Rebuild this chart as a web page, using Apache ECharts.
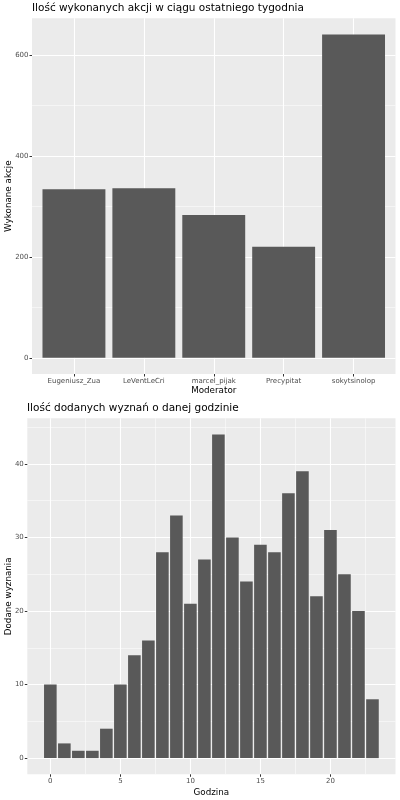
<!DOCTYPE html>
<html>
<head>
<meta charset="utf-8">
<script src="https://cdn.jsdelivr.net/npm/echarts@6/dist/echarts.min.js"></script>
<style>html,body{margin:0;padding:0;background:#fff}#c{width:400px;height:800px}</style>
</head>
<body>
<div id="c"></div>
<script>
// Top chart data
const moderators = ['Eugeniusz_Zua', 'LeVentLeCri', 'marcel_pijak', 'Precypitat', 'sokytsinolop'];
const actions = [334, 336, 283, 220, 641];
const topYTicks = [0, 200, 400, 600];
const topYMinor = [100, 300, 500];

// Bottom chart data
const hours = [0,1,2,3,4,5,6,7,8,9,10,11,12,13,14,15,16,17,18,19,20,21,22,23];
const confessions = [10,2,1,1,4,10,14,16,28,33,21,27,44,30,24,29,28,36,39,22,31,25,20,8];
const botXTicks = [0, 5, 10, 15, 20];
const botXMinor = [2.5, 7.5, 12.5, 17.5, 22.5];
const botYTicks = [0, 10, 20, 30, 40];
const botYMinor = [5, 15, 25, 35, 45];

const PANEL = '#EBEBEB', BAR = '#595959', TXT = '#4D4D4D';
const FONT = 'DejaVu Sans';

function expand(lo, hi, f) { const d = (hi - lo) * f; return [lo - d, hi + d]; }

const topX = [-0.6, moderators.length - 1 + 0.6];
const topY = expand(0, Math.max(...actions), 0.05);
const botX = expand(hours[0] - 0.45, hours[hours.length - 1] + 0.45, 0.05);
const botY = expand(0, Math.max(...confessions), 0.05);

function majorAxis(ext, ticks, extra) {
  return Object.assign({
    type: 'value', min: ext[0], max: ext[1],
    nameMoveOverlap: false,
    axisLine: { show: false, onZero: false },
    axisTick: { show: true, customValues: ticks, length: 2.5, lineStyle: { color: '#333', width: 1 } },
    axisLabel: { customValues: ticks, color: TXT, fontSize: 7, fontFamily: FONT, margin: 3.5 },
    splitLine: { show: true, lineStyle: { color: '#fff', width: 1.1 } },
    nameTextStyle: { color: '#000', fontSize: 8.75, fontFamily: FONT }
  }, extra || {});
}
function minorAxis(ext, ticks, pos) {
  return {
    type: 'value', min: ext[0], max: ext[1], position: pos,
    axisLine: { show: false, onZero: false }, axisLabel: { show: false },
    axisTick: { show: false, customValues: ticks },
    splitLine: { show: true, lineStyle: { color: '#fff', width: 0.5 } }
  };
}

const chart = echarts.init(document.getElementById('c'), null, { renderer: 'canvas' });
chart.setOption({
  animation: false,
  backgroundColor: '#fff',
  title: [
    { text: 'Ilość wykonanych akcji w ciągu ostatniego tygodnia', left: 32, top: 2.5, padding: 0,
      textStyle: { fontSize: 10.5, fontWeight: 'normal', color: '#000', fontFamily: FONT } },
    { text: 'Ilość dodanych wyznań o danej godzinie', left: 27, top: 402.5, padding: 0,
      textStyle: { fontSize: 10.5, fontWeight: 'normal', color: '#000', fontFamily: FONT } }
  ],
  grid: [
    { left: 32, right: 4.5, top: 18.3, height: 355.7, show: true, backgroundColor: PANEL, borderWidth: 0,
      outerBoundsMode: 'none', containLabel: false },
    { left: 27.3, right: 4.5, top: 418.3, height: 356, show: true, backgroundColor: PANEL, borderWidth: 0,
      outerBoundsMode: 'none', containLabel: false }
  ],
  xAxis: [
    majorAxis(topX, moderators.map((_, i) => i), {
      gridIndex: 0, name: 'Moderator', nameLocation: 'middle', nameGap: 12,
      axisLabel: { customValues: moderators.map((_, i) => i), color: TXT, fontSize: 7, fontFamily: FONT, margin: 3.5,
        formatter: v => moderators[Math.round(v)] }
    }),
    majorAxis(botX, botXTicks, { gridIndex: 1, name: 'Godzina', nameLocation: 'middle', nameGap: 13.5 }),
    Object.assign(minorAxis(botX, botXMinor, 'top'), { gridIndex: 1 })
  ],
  yAxis: [
    majorAxis(topY, topYTicks, { gridIndex: 0, name: 'Wykonane akcje', nameLocation: 'middle', nameGap: 18.5 }),
    Object.assign(minorAxis(topY, topYMinor, 'right'), { gridIndex: 0 }),
    majorAxis(botY, botYTicks, { gridIndex: 1, name: 'Dodane wyznania', nameLocation: 'middle', nameGap: 14 }),
    Object.assign(minorAxis(botY, botYMinor, 'right'), { gridIndex: 1 })
  ],
  series: [
    { type: 'bar', xAxisIndex: 0, yAxisIndex: 0, barWidth: '90%',
      data: actions.map((v, i) => [i, v]), itemStyle: { color: BAR } },
    { type: 'bar', xAxisIndex: 1, yAxisIndex: 2, barWidth: '90%',
      data: confessions.map((v, i) => [hours[i], v]), itemStyle: { color: BAR } }
  ]
});
</script>
</body>
</html>
